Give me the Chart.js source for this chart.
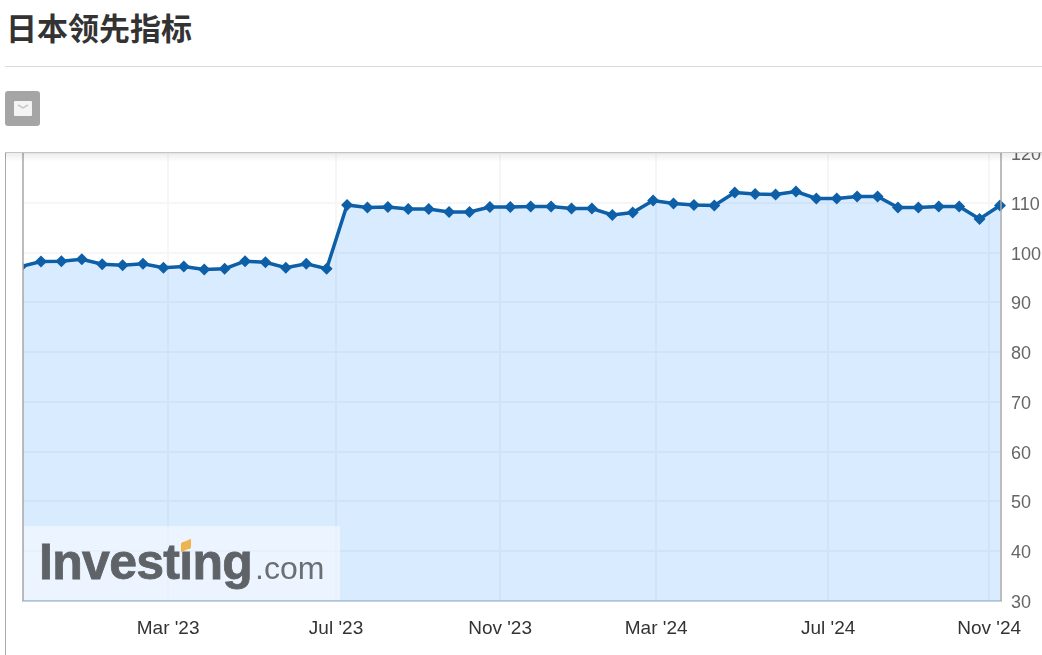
<!DOCTYPE html>
<html lang="zh">
<head>
<meta charset="utf-8">
<title>日本领先指标</title>
<script src="https://cdn.jsdelivr.net/npm/chart.js@4/dist/chart.umd.min.js"></script>
<style>
  html, body { margin: 0; padding: 0; background: #fff; overflow: hidden; width: 1042px; height: 655px; }
  h1 { position: absolute; left: 6px; top: 6px; margin: 0; font: bold 31px/42px "Noto Sans CJK SC", sans-serif; color: #333; }
  #rule { position: absolute; left: 5px; top: 66px; width: 1037px; height: 1px; background: #dcdcdc; }
  #mail { position: absolute; left: 5px; top: 91px; width: 35px; height: 35px; border-radius: 3px; background: #a5a5a5; }
  #mail svg { position: absolute; left: 9px; top: 10px; }
  #frame { position: absolute; left: 0; top: 152px; width: 1042px; height: 503px; overflow: hidden; }
  #myChart { position: absolute; left: 0; top: -32px; }
  #edge { position: absolute; left: 5px; top: 0; width: 1px; height: 503px; background: #aaa; }
  #shadow { position: absolute; left: 5px; top: 0; width: 1037px; height: 9px; border-top: 1px solid #c4c4c4; background: linear-gradient(rgba(0,0,0,.07), rgba(0,0,0,0)); }
  #logo { position: absolute; left: 24px; top: 374px; width: 316px; height: 74px; background: rgba(255,255,255,.5); overflow: hidden; }
  #logo b { position: absolute; left: 15px; top: 6px; font: bold 50px/60px "Liberation Sans", Arial, sans-serif; letter-spacing: -.7px; color: #5f6368; -webkit-text-stroke: .8px #5f6368; }
  #logo span { position: absolute; left: 231px; top: 22px; font: 32px/40px "Liberation Sans", Arial, sans-serif; color: #6b6f73; }
  #logo i { position: absolute; left: 157px; top: 15px; width: 10px; height: 9px; background: #f0b44c; transform: skewY(-25deg); }
</style>
</head>
<body>
<h1>日本领先指标</h1>
<div id="rule"></div>
<div id="mail">
  <svg width="18" height="15" viewBox="0 0 18 15"><rect width="18" height="15" rx="1" fill="#f4f4f4"/><path d="M4 4 L9 7 L14 4" fill="none" stroke="#c8c8c8" stroke-width="1.5"/></svg>
</div>
<div id="frame">
  <canvas id="myChart" width="1042" height="535"></canvas>
  <div id="edge"></div>
  <div id="shadow"></div>
  <div id="logo"><b>Investing</b><i></i><span>.com</span></div>
</div>
<script>
// valores, um ponto a cada quinzena
const valores = [
  97.2, 98.25, 98.3, 98.7, 97.7, 97.5, 97.8, 97, 97.25, 96.65, 96.8, 98.3, 98.1, 97, 97.8, 96.8,
  109.6, 109.1, 109.2, 108.8, 108.8, 108.2, 108.2, 109.2, 109.2, 109.3, 109.3, 108.9, 108.9, 107.6, 108.1, 110.5,
  109.9, 109.6, 109.5, 112.1, 111.8, 111.7, 112.3, 110.9, 110.9, 111.3, 111.3, 109.1, 109.1, 109.3, 109.3, 106.8, 109.5
]
const rotulosX = ["Mar '23", "Jul '23", "Nov '23", "Mar '24", "Jul '24", "Nov '24"]
const posicoesX = [7.23, 15.46, 23.5, 31.15, 39.58, 47.47]
const ticksY = [30, 40, 50, 60, 70, 80, 90, 100, 110, 120]

const pontos = valores.map((v, i) => ({ x: i, y: v }))

// bordas do grafico, esquerda e direita
const bordas = {
  id: 'bordas',
  afterDraw(chart) {
    const a = chart.chartArea
    const c = chart.ctx
    c.save()
    c.strokeStyle = '#a8a8a8'
    c.lineWidth = 1.5
    c.beginPath()
    c.moveTo(a.left, a.top)
    c.lineTo(a.left, a.bottom)
    c.moveTo(a.right, a.top)
    c.lineTo(a.right, a.bottom)
    c.stroke()
    c.restore()
  }
}

const ctx = document.getElementById('myChart')

new Chart(ctx, {
  type: 'line',
  data: {
    datasets: [{
      label: '日本领先指标',
      data: pontos,
      borderColor: '#0d5fa8',
      borderWidth: 3.5,
      backgroundColor: 'rgba(0, 120, 250, 0.15)',
      fill: 'origin',
      tension: 0,
      pointStyle: 'rectRot',
      pointRadius: 6,
      pointBackgroundColor: '#0d5fa8',
      pointBorderWidth: 0,
      clip: { left: 0, top: false, right: false, bottom: false }
    }]
  },
  options: {
    responsive: false,
    animation: false,
    layout: { padding: { left: 23, top: 32, right: 0, bottom: 0 } },
    plugins: { legend: { display: false }, tooltip: { enabled: false } },
    scales: {
      x: {
        type: 'linear',
        min: 0.118,
        max: 48.05,
        afterBuildTicks(scale) {
          scale.ticks = posicoesX.map(v => ({ value: v }))
        },
        afterFit(scale) { scale.height = 54 },
        grid: { color: '#f6f6f6', lineWidth: 2, drawTicks: false },
        border: { color: '#c8d2dc', width: 2 },
        ticks: {
          autoSkip: false,
          maxRotation: 0,
          padding: 16,
          color: '#333',
          font: { family: '"Liberation Sans"', size: 19 },
          callback: (v, i) => rotulosX[i]
        }
      },
      y: {
        position: 'right',
        min: 30,
        max: 120.25,
        afterBuildTicks(scale) {
          scale.ticks = ticksY.map(v => ({ value: v }))
        },
        afterFit(scale) { scale.width = 41 },
        grid: { color: '#f6f6f6', lineWidth: 2, drawTicks: false },
        border: { display: false },
        ticks: {
          padding: 10,
          color: '#666',
          // linha vazia so para descer o texto uns 2px
          font: { family: '"Liberation Sans"', size: 18, lineHeight: 0.2 },
          callback: v => ['', String(v)]
        }
      }
    }
  },
  plugins: [bordas]
})
</script>
</body>
</html>
